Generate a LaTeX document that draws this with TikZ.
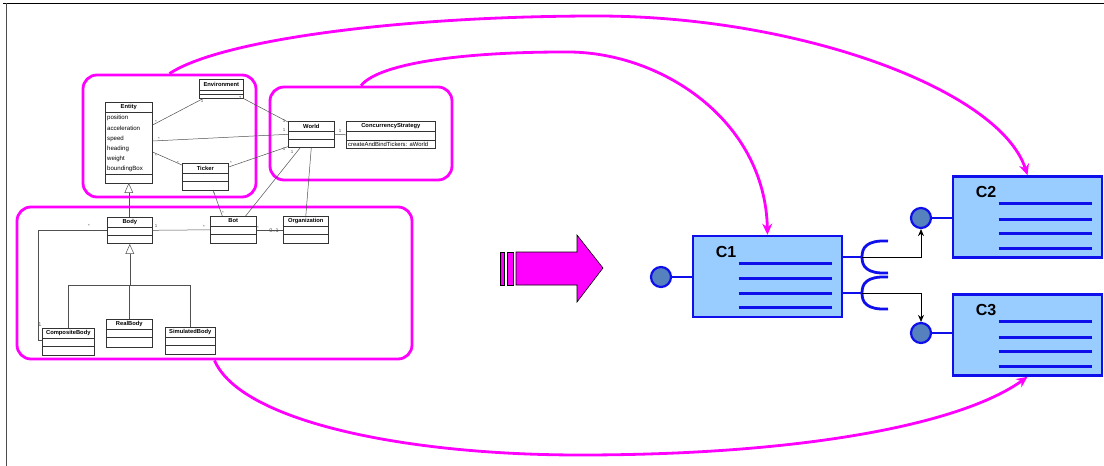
\documentclass[tikz,border=0pt]{standalone}
\usepackage{fontspec}
\setmainfont{Liberation Sans}
\usetikzlibrary{arrows.meta,calc}
\definecolor{mag}{RGB}{255,0,255}
\definecolor{cblue}{RGB}{15,15,235}
\definecolor{cfill}{RGB}{153,204,255}
\definecolor{cdotc}{RGB}{85,130,190}
\definecolor{umlgray}{RGB}{80,80,80}
\newcommand{\umlcls}[8]{%
  \node[umlbox, minimum width=#4pt, minimum height=#5pt] (#1) at (#2,#3) {};
  \node[umltitle] at ($(#1.north)+(0,5)$) {#6};
  \draw[umlsep] ($(#1.north west)+(0,#7)$) -- ($(#1.north east)+(0,#7)$);
  \draw[umlsep] ($(#1.north west)+(0,#8)$) -- ($(#1.north east)+(0,#8)$);
}
\begin{document}
\begin{tikzpicture}[x=1pt,y=-1pt,
  umlbox/.style={draw=black!80, fill=white, line width=0.6pt, anchor=north west, inner sep=0pt},
  umltitle/.style={font=\fontsize{5.8}{6}\selectfont\bfseries, inner sep=0pt},
  umltext/.style={font=\fontsize{6.1}{6.5}\selectfont, inner sep=0pt, anchor=west},
  umlsep/.style={draw=black!80, line width=0.5pt},
  umlline/.style={draw=umlgray, line width=0.5pt},
  mult/.style={font=\fontsize{4.5}{5}\selectfont, inner sep=0pt, text=umlgray},
  magbox/.style={draw=mag, line width=2.8pt, rounded corners=14pt, inner sep=0pt},
  magarrow/.style={draw=mag, line width=2.8pt, -{Stealth[length=11pt,width=10pt]}},
  cbox/.style={draw=cblue, fill=cfill, line width=2.6pt, minimum width=149pt, minimum height=81pt, inner sep=0pt},
  cline/.style={draw=cblue, line width=2.8pt},
  clabel/.style={font=\fontsize{16}{16}\selectfont\bfseries, inner sep=0pt, anchor=west},
  cdot/.style={circle, draw=cblue, fill=cdotc, line width=2.2pt, minimum size=20pt, inner sep=0pt},
  cstem/.style={draw=cblue, line width=2.8pt},
  blackarrow/.style={draw=black, line width=0.8pt, -{Stealth[length=7pt,width=6pt]}}
]
\useasboundingbox (0,0) rectangle (1104,466);
% frame
\draw[black, line width=1.3pt] (3,3.5) -- (1104,3.5);
\draw[black!70, line width=0.8pt] (6,3) -- (6,466);

% magenta groups
\node[magbox, minimum width=173pt, minimum height=122pt] (g1) at (169.5,136) {};
\node[magbox, minimum width=182pt, minimum height=93pt] (g2) at (361,133.5) {};
\node[magbox, minimum width=395pt, minimum height=152pt] (g3) at (214.5,283) {};

% UML classes
\umlcls{env}{199}{79}{44}{19}{Environment}{11}{15}
\node[umlbox, minimum width=47pt, minimum height=81pt] (entity) at (105,102) {};
\node[umltitle] at ($(entity.north)+(0,5)$) {Entity};
\draw[umlsep] ($(entity.north west)+(0,10)$) -- ($(entity.north east)+(0,10)$);
\draw[umlsep] ($(entity.north west)+(0,72)$) -- ($(entity.north east)+(0,72)$);
\foreach \t [count=\i] in {position,acceleration,speed,heading,weight,boundingBox}
  \node[umltext] at ($(entity.north west)+(2,6+10.2*\i)$) {\t};
\umlcls{ticker}{182}{163}{46}{27}{Ticker}{10}{18}
\umlcls{world}{288}{121}{46}{26}{World}{10}{18}
\umlcls{conc}{346}{121}{89}{27}{ConcurrencyStrategy}{10}{19}
\node[umltext, font=\fontsize{5.9}{6}\selectfont] at ($(conc.north west)+(2,23)$) {createAndBindTickers: aWorld};
\umlcls{body}{107}{217}{45}{26}{Body}{10}{18}
\umlcls{bot}{210}{216}{46}{27}{Bot}{10}{18}
\umlcls{org}{283}{216}{45}{27}{Organization}{10}{18}
\umlcls{comp}{42}{328}{52}{27}{CompositeBody}{10}{18}
\umlcls{real}{106}{319}{46}{28}{RealBody}{10}{18}
\umlcls{sim}{165}{327}{50}{27}{SimulatedBody}{10}{18}

% UML connectors
\draw[umlline] ($(entity.north east)+(0,23)$) -- ($(env.south west)+(4,0)$);
\draw[umlline] ($(entity.north east)+(0,39)$) -- (world.west);
\draw[umlline] ($(entity.north east)+(0,50)$) -- ($(ticker.north west)+(0,2)$);
\draw[umlline] ($(ticker.north east)+(0,4)$) -- ($(world.south west)+(0,-1)$);
\draw[umlline] (env.south east) -- ($(world.north west)+(0,1)$);
\draw[umlline] (world.east) -- (conc.west);
\draw[umlline] ($(ticker.south)+(8,0)$) -- ($(bot.north)+(-11,0)$);
\draw[umlline] ($(bot.north east)+(-11,0)$) -- ($(world.south)+(-11,0)$);
\draw[umlline] (org.north) -- (world.south);
\draw[umlline] (body.east) -- (bot.west);
\draw[umlline] (bot.east) -- (org.west);
\draw[umlline] (body.west) -- ++(-69,0) |- ($(comp.west)+(0,-2)$);
% generalization Entity <- Body
\draw[umlline, fill=white] (entity.south) -- ++(-4,9) -- ++(8,0) -- cycle;
\draw[umlline] ($(entity.south)+(0,9)$) -- (entity.south |- body.north);
% generalization Body <- subclasses
\draw[umlline, fill=white] ($(body.south)+(0,1)$) -- ++(-4,9) -- ++(8,0) -- cycle;
\draw[umlline] ($(body.south)+(0,10)$) -- ($(body.south)+(0,42)$);
\draw[umlline] (comp.north) -- (comp.north |- 0,285) -- (sim.north |- 0,285) -- (sim.north);
\draw[umlline] (real.north) -- (real.north |- 0,285);

% multiplicities
\node[mult] at (156,122) {*};
\node[mult] at (202,101) {1};
\node[mult] at (159,139) {*};
\node[mult] at (156,156) {*};
\node[mult] at (178,163) {*};
\node[mult] at (231,163) {*};
\node[mult] at (240,98) {2};
\node[mult] at (284,121) {1};
\node[mult] at (284,130) {1};
\node[mult] at (284,149) {1};
\node[mult] at (340,131) {1};
\node[mult] at (292,152) {1};
\node[mult] at (214,194) {*};
\node[mult] at (223,213) {*};
\node[mult] at (156,226) {1};
\node[mult] at (204,227) {*};
\node[mult] at (258,228) {*};
\node[mult, font=\fontsize{5.5}{6}\selectfont] at (274,231) {0..1};
\node[mult] at (89,226) {*};
\node[mult, font=\fontsize{5.5}{6}\selectfont] at (40,325) {1};

% big magenta arrow
\draw[black, fill=mag, line width=0.6pt] (500,252) rectangle (504,285);
\draw[black, fill=mag, line width=0.6pt] (507,252) rectangle (513,285);
\draw[black, fill=mag, line width=0.6pt] (516,252) -- (577,252) -- (577,235) -- (603,268) -- (577,302) -- (577,285) -- (516,285) -- cycle;

% component boxes
\node[cbox] (c1) at (767.5,276.5) {};
\node[cbox] (c2) at (1027.5,217) {};
\node[cbox] (c3) at (1027.5,335) {};
\foreach \c/\n in {c1/C1,c2/C2,c3/C3}{
  \node[clabel] at ($(\c.north west)+(24,17)$) {\n};
  \foreach \dy in {28.5,44,58.5,73}
    \draw[cline] ($(\c.north west)+(47,\dy)$) -- ++(93,0);
}
% lollipops
\node[cdot] (d1) at (661,277) {};
\node[cdot] (d2) at (921,218) {};
\node[cdot] (d3) at (921,333) {};
\draw[cstem] (d1.east) -- (d1.east -| c1.west);
\draw[cstem] (d2.east) -- (d2.east -| c2.west);
\draw[cstem] (d3.east) -- (d3.east -| c3.west);
% sockets
\coordinate (s1) at (862,257);
\coordinate (s2) at (862,293);
\foreach \s in {s1,s2}{
  \draw[cstem] (c1.east |- \s) -- (\s);
  \draw[cstem] ($(\s)+(26,-16)$) .. controls ($(\s)+(4,-17)$) and ($(\s)+(0,-9)$) .. (\s)
     .. controls ($(\s)+(0,9)$) and ($(\s)+(4,17)$) .. ($(\s)+(26,16)$);
}
\draw[blackarrow] (s1) -| (d2.south);
\draw[blackarrow] (s2) -| (d3.north);

% magenta curves
\draw[magarrow] (g1.north) .. controls (220,40) and (400,16) .. (597,16)
   .. controls (800,16) and (1000,90) .. (c2.north);
\draw[magarrow] (g2.north) .. controls (380,62) and (470,52) .. (563,52)
   .. controls (660,50) and (765,120) .. (c1.north);
\draw[magarrow] (g3.south) .. controls (240,420) and (400,455) .. (580,455)
   .. controls (800,455) and (960,425) .. (c3.south);
\end{tikzpicture}
\end{document}
